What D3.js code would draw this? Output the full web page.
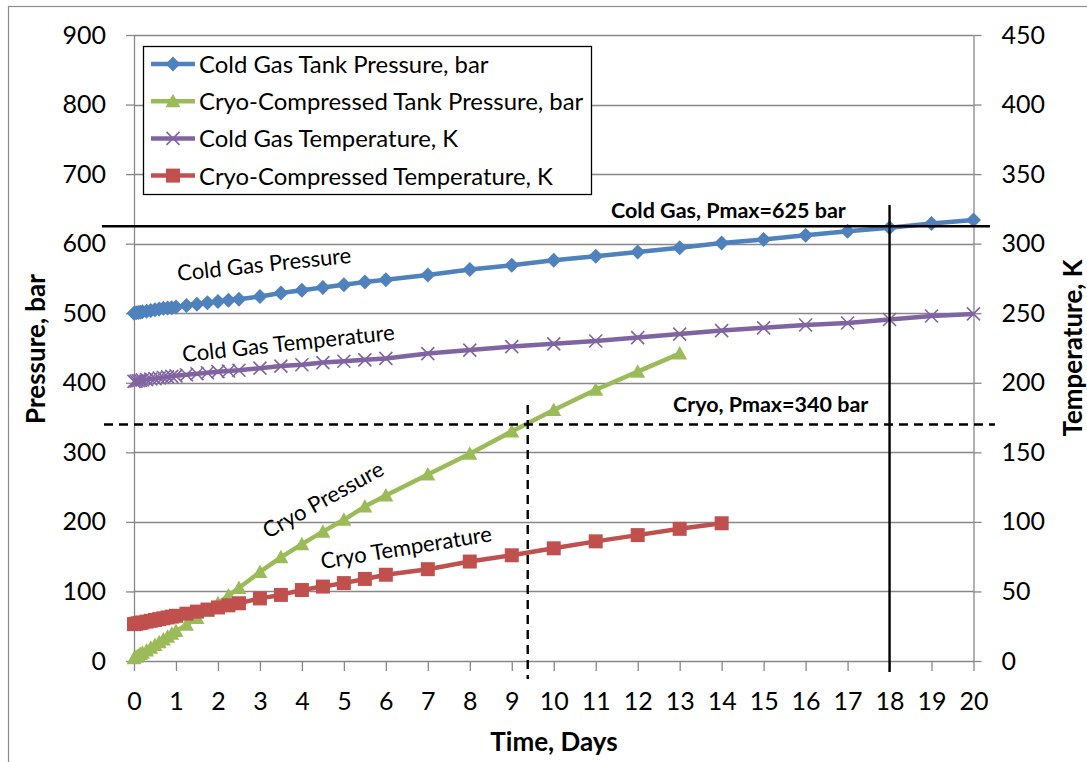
<!DOCTYPE html>
<html>
<head>
<meta charset="utf-8">
<script src="https://cdn.jsdelivr.net/npm/d3@7"></script>
<style>
  body { margin: 0; background: #fff; }
  svg text { font-family: Lato, "Open Sans", sans-serif; fill: #000; }
</style>
</head>
<body>
<svg id="chart" width="1087" height="762"></svg>
<script>
// time points (days) shared by all series
const days = [0, 0.05, 0.1, 0.15, 0.2, 0.3, 0.4, 0.5, 0.6, 0.7, 0.8, 0.9, 1, 1.25, 1.5, 1.75, 2, 2.25, 2.5,
  3, 3.5, 4, 4.5, 5, 5.5, 6, 7, 8, 9, 10, 11, 12, 13, 14, 15, 16, 17, 18, 19, 20];

// bar
const coldPressure = [500, 500.5, 501, 501.5, 502, 503, 504, 505, 506, 507, 507.5, 508, 509, 511, 513, 515, 517, 518.5, 520,
  524, 529, 533, 537, 541, 545, 548, 555, 563, 569, 576, 582, 588, 594, 601, 606, 612, 618, 623, 629, 634];
const cryoPressure = [4, 6, 8, 10, 12, 15, 19, 23, 27, 31, 35, 39, 43, 52, 62, 72, 83, 94, 105,
  128, 149, 168, 186, 203, 222, 238, 268, 298, 330, 361, 390, 416, 442];

// K
const coldTemp = [201, 201.2, 201.5, 201.7, 202, 202.3, 202.7, 203, 203.4, 203.8, 204.2, 204.6, 205, 205.8, 206.5, 207.2, 208, 208.5, 209,
  210.5, 212, 213, 214.5, 215.5, 216.5, 217.5, 221, 223.5, 226, 228, 230, 232.5, 235, 237.5, 239.5, 241.5, 243, 245.5, 248, 249.5];
const cryoTemp = [26.5, 26.8, 27.1, 27.4, 27.7, 28.3, 28.9, 29.5, 30.1, 30.7, 31.3, 31.9, 32.5, 34, 35.5, 37, 38.5, 40, 41.5,
  45, 47.5, 51, 53.5, 56, 59, 62, 66, 71.5, 76, 81, 86, 90.5, 95, 99];

const pressureTicks = [0, 100, 200, 300, 400, 500, 600, 700, 800, 900];
const tempTicks = [0, 50, 100, 150, 200, 250, 300, 350, 400, 450];
const dayTicks = d3.range(0, 21);

const coldPmax = 625, cryoPmax = 340;
const coldDay = 18, cryoDay = 9.38;

const svg = d3.select("#chart");
const grey = "#878787";

const x = d3.scaleLinear().domain([0, 20]).range([134, 973.5]);
const yP = d3.scaleLinear().domain([0, 900]).range([661, 35]);
const yT = d3.scaleLinear().domain([0, 450]).range([661, 35]);

// outer frame
svg.append("rect")
  .attr("x", 8.5).attr("y", 6.5).attr("width", 1100).attr("height", 800)
  .attr("fill", "none").attr("stroke", "#8c8c8c").attr("stroke-width", 1.2);

// grid
svg.append("g").selectAll("line")
  .data(pressureTicks.slice(1))
  .join("line")
  .attr("x1", x(0)).attr("x2", x(20))
  .attr("y1", d => Math.round(yP(d)) + 0.5).attr("y2", d => Math.round(yP(d)) + 0.5)
  .attr("stroke", grey).attr("stroke-width", 1.3);

function styleAxis(g) {
  g.selectAll("path, line").attr("stroke", grey).attr("stroke-width", 1.3);
  g.selectAll("text").attr("font-size", 25).attr("font-family", "Lato, sans-serif");
}

svg.append("g")
  .attr("transform", `translate(${x(0)},0)`)
  .call(d3.axisLeft(yP).tickValues(pressureTicks).tickSize(8).tickSizeOuter(0).tickPadding(20))
  .call(styleAxis);

svg.append("g")
  .attr("transform", `translate(${x(20)},0)`)
  .call(d3.axisRight(yT).tickValues(tempTicks).tickSize(8).tickSizeOuter(0).tickPadding(20))
  .call(styleAxis);

svg.append("g")
  .attr("transform", `translate(0,${yP(0)})`)
  .call(d3.axisBottom(x).tickValues(dayTicks).tickSize(10).tickSizeOuter(0).tickPadding(21))
  .call(styleAxis);

// axis titles
svg.append("text")
  .attr("transform", `translate(45,349) rotate(-90)`)
  .attr("text-anchor", "middle").attr("font-size", 26).attr("font-weight", "bold")
  .text("Pressure, bar");
svg.append("text")
  .attr("transform", `translate(1082,348) rotate(-90)`)
  .attr("text-anchor", "middle").attr("font-size", 26).attr("font-weight", "bold")
  .text("Temperature, K");
svg.append("text")
  .attr("x", 554).attr("y", 751)
  .attr("text-anchor", "middle").attr("font-size", 26).attr("font-weight", "bold")
  .text("Time, Days");

// markers
const markers = {
  diamond: "M0,-7.5L7.5,0L0,7.5L-7.5,0Z",
  triangle: "M0,-7.5L7.5,6L-7.5,6Z",
  square: "M-7,-7H7V7H-7Z",
  cross: "M-6.5,-6.5L6.5,6.5M-6.5,6.5L6.5,-6.5"
};

const series = [
  { name: "Cold Gas Tank Pressure, bar", values: coldPressure, y: yP, color: "#4F81BD", marker: "diamond" },
  { name: "Cryo-Compressed Tank Pressure, bar", values: cryoPressure, y: yP, color: "#9BBB59", marker: "triangle" },
  { name: "Cold Gas Temperature, K", values: coldTemp, y: yT, color: "#8064A2", marker: "cross" },
  { name: "Cryo-Compressed Temperature, K", values: cryoTemp, y: yT, color: "#C0504D", marker: "square" }
];

function drawMarker(sel, s) {
  if (s.marker === "cross") {
    sel.attr("fill", "none").attr("stroke", s.color).attr("stroke-width", 1.6);
  } else {
    sel.attr("fill", s.color).attr("stroke", "none");
  }
}

const plot = svg.append("g");
series.forEach(s => {
  const pts = s.values.map((v, i) => [days[i], v]);
  const line = d3.line().x(d => x(d[0])).y(d => s.y(d[1]));
  const g = plot.append("g");
  g.append("path")
    .attr("d", line(pts))
    .attr("fill", "none").attr("stroke", s.color).attr("stroke-width", 4.5)
    .attr("stroke-linejoin", "round");
  g.selectAll("path.m")
    .data(pts)
    .join("path")
    .attr("class", "m")
    .attr("d", markers[s.marker])
    .attr("transform", d => `translate(${x(d[0])},${s.y(d[1])})`)
    .call(drawMarker, s);
});

// Pmax limit lines
svg.append("line")
  .attr("x1", 102).attr("x2", 990).attr("y1", yP(coldPmax)).attr("y2", yP(coldPmax))
  .attr("stroke", "#000").attr("stroke-width", 2.4);
svg.append("line")
  .attr("x1", x(coldDay)).attr("x2", x(coldDay)).attr("y1", 205).attr("y2", 672)
  .attr("stroke", "#000").attr("stroke-width", 2.4);
svg.append("line")
  .attr("x1", 104).attr("x2", 995).attr("y1", yP(cryoPmax)).attr("y2", yP(cryoPmax))
  .attr("stroke", "#000").attr("stroke-width", 2.4).attr("stroke-dasharray", "9,6");
svg.append("line")
  .attr("x1", x(cryoDay)).attr("x2", x(cryoDay)).attr("y1", 405).attr("y2", 679)
  .attr("stroke", "#000").attr("stroke-width", 2.4).attr("stroke-dasharray", "9,6");

svg.append("text")
  .attr("x", 611).attr("y", 218).attr("font-size", 21.5).attr("font-weight", "bold")
  .text("Cold Gas, Pmax=625 bar");
svg.append("text")
  .attr("x", 673).attr("y", 412).attr("font-size", 21.5).attr("font-weight", "bold")
  .text("Cryo, Pmax=340 bar");

// curve labels
const curveLabels = [
  { text: "Cold Gas Pressure", x: 178, y: 281, angle: -6 },
  { text: "Cold Gas Temperature", x: 183, y: 362, angle: -6 },
  { text: "Cryo Pressure", x: 268, y: 539, angle: -29 },
  { text: "Cryo Temperature", x: 322, y: 569, angle: -9.3 }
];
svg.append("g").selectAll("text")
  .data(curveLabels)
  .join("text")
  .attr("transform", d => `translate(${d.x},${d.y}) rotate(${d.angle})`)
  .attr("font-size", 22)
  .text(d => d.text);

// legend
const legend = svg.append("g");
legend.append("rect")
  .attr("x", 143.5).attr("y", 46.5).attr("width", 448).attr("height", 148)
  .attr("fill", "#fff").attr("stroke", "#000").attr("stroke-width", 1.3);
const rows = legend.selectAll("g")
  .data(series)
  .join("g")
  .attr("transform", (d, i) => `translate(0,${64 + i * 37.2})`);
rows.append("line")
  .attr("x1", 151).attr("x2", 195)
  .attr("stroke", d => d.color).attr("stroke-width", 4.5);
rows.append("path")
  .attr("d", d => markers[d.marker])
  .attr("transform", "translate(173,0)")
  .each(function(d) { d3.select(this).call(drawMarker, d); });
rows.append("text")
  .attr("x", 199).attr("y", 9)
  .attr("font-size", 23.9)
  .text(d => d.name);
</script>
</body>
</html>
